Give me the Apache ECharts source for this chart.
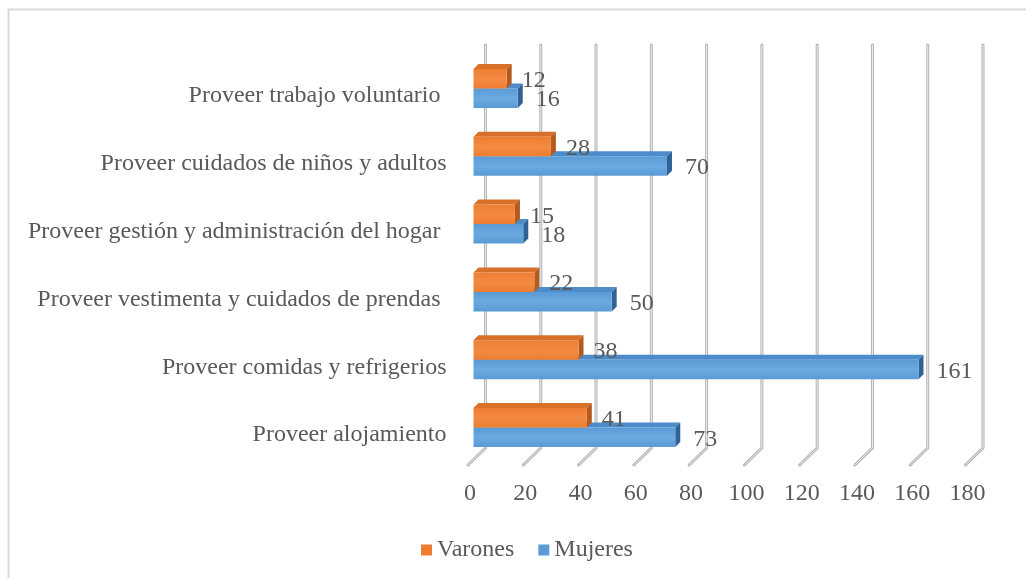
<!DOCTYPE html>
<html>
<head>
<meta charset="utf-8">
<title>Trabajo doméstico no remunerado</title>
<script src="https://cdn.jsdelivr.net/npm/echarts@6/dist/echarts.min.js"></script>
<style>
html, body { margin: 0; padding: 0; background: #fff; }
#main { width: 1026px; height: 578px; }
</style>
</head>
<body>
<div id="main"></div>
<script>
// datos (de abajo hacia arriba)
var categorias = ['Proveer alojamiento', 'Proveer comidas y refrigerios', 'Proveer vestimenta y cuidados de prendas ',
    'Proveer gestión y administración del hogar ', 'Proveer cuidados de niños y adultos', 'Proveer trabajo voluntario '];
var varones = [41, 38, 22, 15, 28, 12];
var mujeres = [73, 161, 50, 18, 70, 16];
var marcasEje = [0, 20, 40, 60, 80, 100, 120, 140, 160, 180];

var fuente = '"Liberation Serif", "Times New Roman", serif';
var gris = '#595959';
var prof = 5;    // profundidad de las caras 3D de las barras
var fondo = 12;  // desplazamiento de la pared del fondo

var naranja = { frente: '#ed7d31', claro: '#f38b43', arriba: '#d9702a', lado: '#b55a1f', dist: 15 };
var azul = { frente: '#5b9bd5', claro: '#6aa9e2', arriba: '#4d8ccb', lado: '#2f6295', dist: 18 };

// limites verticales del area de trazado
function limites(api) {
    var banda = api.size([0, 1])[1];
    return {
        abajo: api.coord([0, 0])[1] + banda / 2,
        arriba: api.coord([0, categorias.length - 1])[1] - banda / 2
    };
}

// lineas de la pared del fondo con su pie en el piso
function dibujarRejilla(params, api) {
    var l = limites(api);
    var x = api.coord([api.value(0), 0])[0] + fondo;
    var yb = l.abajo - fondo;
    var pts = [[x, l.arriba - 8], [x, yb], [x - 17.5, yb + 17]];
    return {
        type: 'group',
        children: [
            { type: 'polyline', shape: { points: pts }, style: { stroke: '#b4b4b4', lineWidth: 3, fill: null, lineCap: 'round', lineJoin: 'round' } },
            { type: 'polyline', shape: { points: pts }, style: { stroke: '#ececec', lineWidth: 1, fill: null } }
        ]
    };
}

function barras3d(col, arriba) {
    return function (params, api) {
        var v = api.value(0), c = api.value(1);
        var ini = api.coord([0, c]);
        var fin = api.coord([v, c]);
        var h = 19.5;
        var y0 = arriba ? ini[1] + 1.5 - h : ini[1] + 1.5;
        var y1 = y0 + h;
        var x0 = ini[0], x1 = fin[0];
        var grad = new echarts.graphic.LinearGradient(0, 0, 0, 1, [
            { offset: 0, color: col.frente },
            { offset: 0.5, color: col.claro },
            { offset: 1, color: col.frente }
        ]);
        return {
            type: 'group',
            children: [
                { type: 'polygon', shape: { points: [[x0, y0], [x1, y0], [x1 + prof, y0 - prof], [x0 + prof, y0 - prof]] }, style: { fill: col.arriba } },
                { type: 'polygon', shape: { points: [[x1, y0], [x1 + prof, y0 - prof], [x1 + prof, y1 - prof], [x1, y1]] }, style: { fill: col.lado } },
                { type: 'rect', shape: { x: x0, y: y0, width: x1 - x0, height: h }, style: { fill: grad } },
                { type: 'text', style: { text: String(v), x: x1 + col.dist, y: (y0 + y1) / 2 + 2, align: 'left', verticalAlign: 'middle',
                    fontFamily: fuente, fontSize: 24, fill: gris } }
            ]
        };
    };
}

var chart = echarts.init(document.getElementById('main'));
var option = {
    animation: false,
    backgroundColor: '#fff',
    graphic: [{
        type: 'rect', silent: true,
        shape: { x: 8.5, y: 9.5, width: 1030, height: 600 },
        style: { fill: 'none', stroke: '#d9d9d9', lineWidth: 2 }
    }],
    grid: { left: 473.5, right: 55, top: 53, bottom: 118 },
    legend: {
        data: ['Varones', 'Mujeres'],
        left: 421, top: 538, padding: 0,
        icon: 'rect', itemWidth: 11, itemHeight: 11, itemGap: 24,
        textStyle: { color: gris, fontFamily: fuente, fontSize: 24 }
    },
    xAxis: {
        type: 'value', min: 0, max: 180, interval: 20,
        axisLine: { show: false }, axisTick: { show: false }, splitLine: { show: false },
        axisLabel: { color: gris, fontFamily: fuente, fontSize: 24, margin: 22, padding: [0, 7, 0, 0] }
    },
    yAxis: {
        type: 'category', data: categorias,
        axisLine: { show: false }, axisTick: { show: false },
        axisLabel: { interval: 0, color: gris, fontFamily: fuente, fontSize: 24, margin: 27,
            verticalAlign: 'top', lineHeight: 18 }
    },
    series: [
        {
            type: 'custom', name: 'rejilla', silent: true, z: 1,
            renderItem: dibujarRejilla,
            encode: { x: 0, y: 1 },
            data: marcasEje.map(function (v) { return [v, 0]; })
        },
        {
            type: 'custom', name: 'Mujeres', z: 2,
            renderItem: barras3d(azul, false),
            encode: { x: 0, y: 1 },
            itemStyle: { color: azul.frente },
            data: mujeres.map(function (v, i) { return [v, i]; })
        },
        {
            type: 'custom', name: 'Varones', z: 3,
            renderItem: barras3d(naranja, true),
            encode: { x: 0, y: 1 },
            itemStyle: { color: naranja.frente },
            data: varones.map(function (v, i) { return [v, i]; })
        }
    ]
};
chart.setOption(option);
</script>
</body>
</html>
